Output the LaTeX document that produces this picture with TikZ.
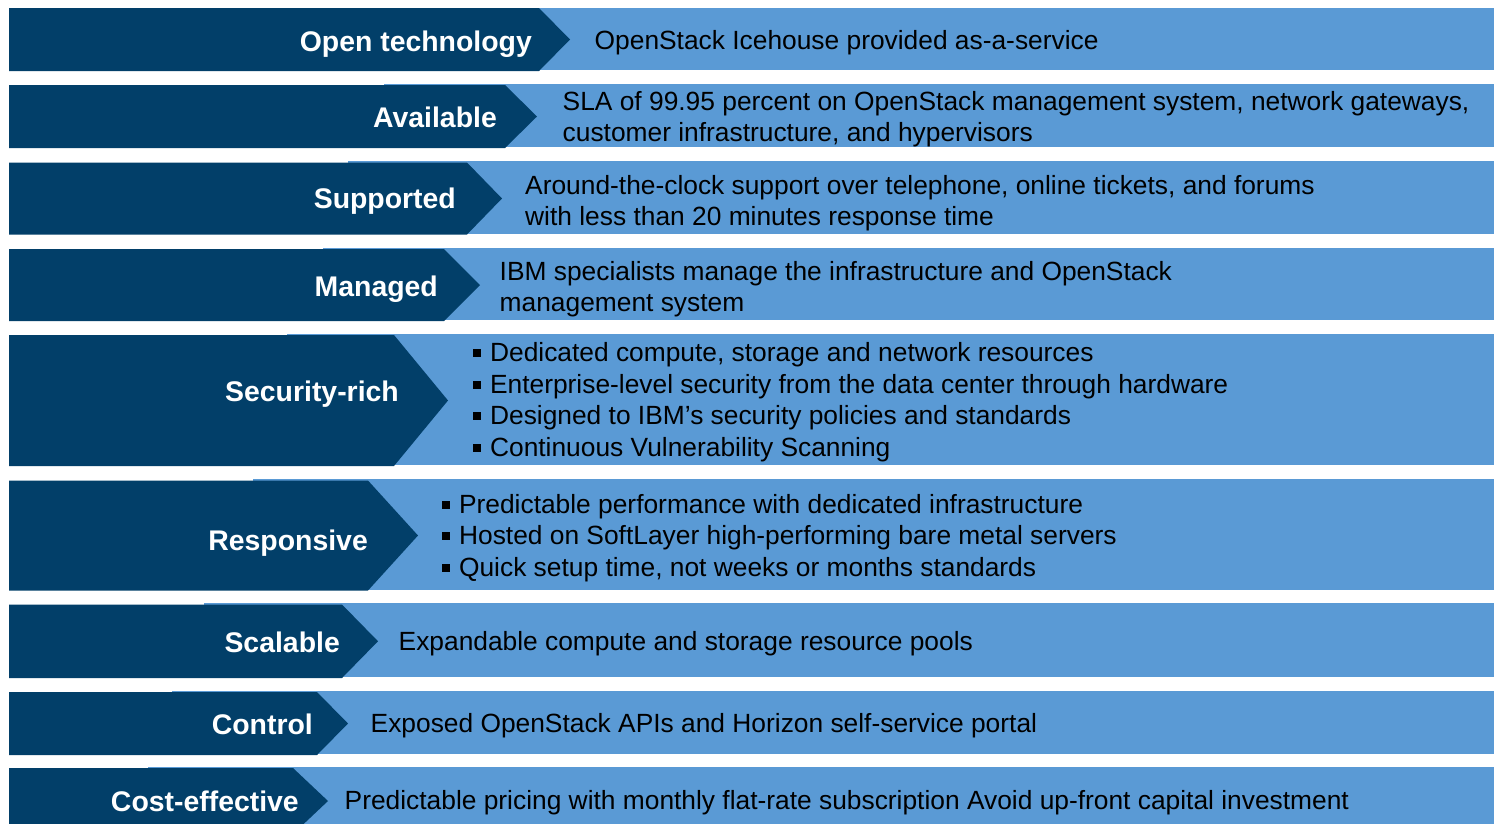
\documentclass[tikz,border=0pt]{standalone}
\usepackage{fontspec}
\setmainfont{Liberation Sans}
\definecolor{darkband}{RGB}{2,63,105}
\definecolor{lightband}{RGB}{90,154,213}
\newcommand\sqbul{\rule[0.16em]{0.3em}{0.3em}\hspace{0.36em}}
% #1 top, #2 bottom, #3 body right, #4 tip x, #5 light start, #6 light top
\newcommand\bandrow[6]{%
  \fill[lightfill] (#5,#6) rectangle (1494,#2-0.8);
  \fill[darkfill] (9,#1) -- (#3,#1) -- (#4,{(#1+#2)/2}) -- (#3,#2) -- (9,#2) -- cycle;
}
\begin{document}
\begin{tikzpicture}[x=1pt,y=-1pt,
  lightfill/.style={fill=lightband},
  darkfill/.style={fill=darkband},
  lbl/.style={anchor=base east,inner sep=0pt,text=white,font=\fontsize{28.4}{34}\selectfont\bfseries},
  desc/.style={anchor=base west,inner sep=0pt,text=black,font=\fontsize{26.35}{31.5}\selectfont}]
\useasboundingbox (0,0) rectangle (1494,823);
\clip (0,0) rectangle (1494,823);
\fill[white] (0,0) rectangle (1494,823);

\bandrow{8}{71}{539}{570}{9}{8}
\bandrow{85}{148}{505}{537}{384}{83.5}
\bandrow{162.5}{234.5}{467}{502}{348}{161}
\bandrow{249}{321}{444}{480}{323}{248}
\bandrow{335}{466}{394}{448}{287}{334}
\bandrow{480.5}{590.5}{368}{418}{253}{479}
\bandrow{604.5}{678}{342}{378}{204}{603}
\bandrow{692}{755}{317}{348}{172}{691}
\bandrow{768}{834}{293}{328}{148}{767}

\node[lbl] (l1) at (532,51) {Open technology};
\node[lbl] (l2) at (497,127) {Available};
\node[lbl] (l3) at (456,208) {Supported};
\node[lbl] (l4) at (438,296) {Managed};
\node[lbl] (l5) at (399,401) {Security-rich};
\node[lbl] (l6) at (368,550) {Responsive};
\node[lbl] (l7) at (340,652) {Scalable};
\node[lbl] (l8) at (313,734) {Control};
\node[lbl] (l9) at (299,811) {Cost-effective};

\node[desc] (d1) at (594.5,49) {OpenStack Icehouse provided as-a-service};
\node[desc] (d2) at (562.5,110) {\begin{tabular}[t]{@{}l@{}}SLA of 99.95 percent on OpenStack management system, network gateways,\\customer infrastructure, and hypervisors\end{tabular}};
\node[desc] (d3) at (525,194) {\begin{tabular}[t]{@{}l@{}}Around-the-clock support over telephone, online tickets, and forums\\with less than 20 minutes response time\end{tabular}};
\node[desc] (d4) at (499.5,280) {\begin{tabular}[t]{@{}l@{}}IBM specialists manage the infrastructure and OpenStack\\management system\end{tabular}};
\node[desc] (d5) at (472.5,361.5) {\begin{tabular}[t]{@{}l@{}}\sqbul Dedicated compute, storage and network resources\\\sqbul Enterprise-level security from the data center through hardware\\\sqbul Designed to IBM’s security policies and standards\\\sqbul Continuous Vulnerability Scanning\end{tabular}};
\node[desc] (d6) at (441.5,513) {\begin{tabular}[t]{@{}l@{}}\sqbul Predictable performance with dedicated infrastructure\\\sqbul Hosted on SoftLayer high-performing bare metal servers\\\sqbul Quick setup time, not weeks or months standards\end{tabular}};
\node[desc] (d7) at (398.5,650.5) {Expandable compute and storage resource pools};
\node[desc] (d8) at (370.5,732.5) {Exposed OpenStack APIs and Horizon self-service portal};
\node[desc] (d9) at (344.5,809.5) {Predictable pricing with monthly flat-rate subscription Avoid up-front capital investment};
\end{tikzpicture}
\end{document}
